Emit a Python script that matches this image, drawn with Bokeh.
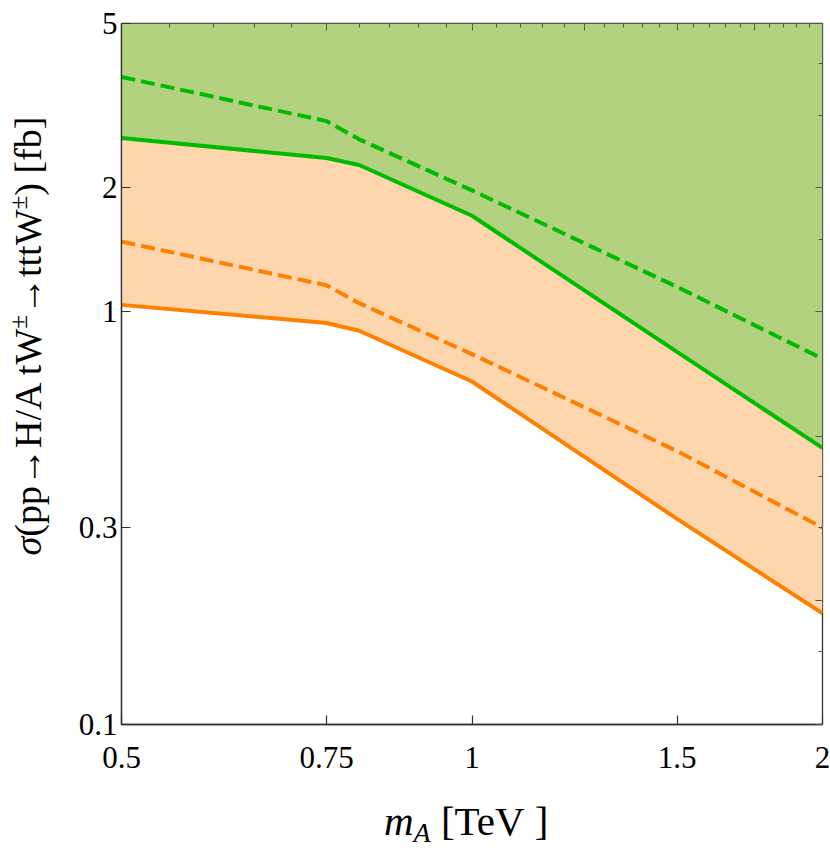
import numpy as np
from bokeh.plotting import figure
from bokeh.models import LogAxis, FixedTicker, Range1d, CustomJSTickFormatter, Div
from bokeh.layouts import column, row
from bokeh.embed import file_html
from bokeh.resources import INLINE

# ---- data ----
mass_tev = [0.5, 0.75, 0.8, 1.0, 1.5, 2.0]
green_solid = [2.64, 2.36, 2.27, 1.71, 0.80, 0.468]
green_dashed = [3.71, 2.90, 2.62, 1.97, 1.15, 0.77]
orange_solid = [1.04, 0.94, 0.90, 0.678, 0.315, 0.186]
orange_dashed = [1.48, 1.16, 1.05, 0.79, 0.46, 0.30]

x_ticks = [0.5, 0.75, 1.0, 1.5, 2.0]
y_ticks = [0.1, 0.3, 1.0, 2.0, 5.0]
x_lim = (0.5, 2.0)
y_lim = (0.1, 5.0)

top_major = [0.5, 0.75, 1.0, 1.25, 1.5, 1.75, 2.0]
top_minor = [0.55, 0.6, 0.65, 0.7, 0.8, 0.85, 0.9, 0.95, 1.05, 1.1, 1.15, 1.2,
             1.3, 1.35, 1.4, 1.45, 1.55, 1.6, 1.65, 1.7, 1.8, 1.85, 1.9, 1.95]
right_major = [0.1, 0.2, 0.5, 1.0, 2.0, 5.0]
right_minor = [0.15, 0.3, 0.4, 1.5, 3.0, 4.0]

FONT = "Liberation Serif"
AX = "#333333"
GREEN_FILL = "#b3d280"
ORANGE_FILL = "#fed6ae"
GREEN = "#00bb00"
ORANGE = "#ff8000"

p = figure(x_axis_type="log", y_axis_type="log",
           x_range=Range1d(*x_lim), y_range=Range1d(*y_lim),
           frame_width=701, frame_height=701,
           min_border_left=61, min_border_right=8,
           min_border_top=23, min_border_bottom=60,
           output_backend="svg", toolbar_location=None,
           background_fill_color="white", border_fill_color="white")
p.xgrid.visible = False
p.ygrid.visible = False
p.outline_line_color = AX
p.outline_line_width = 1.3

fmt = CustomJSTickFormatter(code="return String(tick);")
blank = CustomJSTickFormatter(code="return '';")

left = p.left[0]
left.ticker = FixedTicker(ticks=y_ticks, minor_ticks=[])
left.formatter = fmt
bottom = p.below[0]
bottom.ticker = FixedTicker(ticks=x_ticks, minor_ticks=[])
bottom.formatter = fmt
for ax in (left, bottom):
    ax.major_tick_in = 9
    ax.major_tick_out = 0
    ax.minor_tick_in = 0
    ax.minor_tick_out = 0
    ax.axis_line_color = AX
    ax.axis_line_width = 1.3
    ax.major_tick_line_color = AX
    ax.major_tick_line_width = 1.2
    ax.major_label_text_font = FONT
    ax.major_label_text_font_size = "31px"
    ax.major_label_text_color = "black"
left.major_label_standoff = 4
bottom.major_label_standoff = 22

top_axis = LogAxis(ticker=FixedTicker(ticks=top_major, minor_ticks=top_minor), formatter=blank)
right_axis = LogAxis(ticker=FixedTicker(ticks=right_major, minor_ticks=right_minor), formatter=blank)
for ax in (top_axis, right_axis):
    ax.major_tick_in = 7
    ax.major_tick_out = 0
    ax.minor_tick_in = 4
    ax.minor_tick_out = 0
    ax.axis_line_color = None
    ax.major_tick_line_color = "#555555"
    ax.minor_tick_line_color = "#555555"
    ax.major_label_text_font_size = "1px"
    ax.major_label_standoff = 0
p.add_layout(top_axis, "above")
p.add_layout(right_axis, "right")

# ---- regions ----
top_edge = [y_lim[1]] * len(mass_tev)
p.varea(x=mass_tev, y1=green_solid, y2=top_edge, fill_color=GREEN_FILL, fill_alpha=1.0)
p.varea(x=mass_tev, y1=orange_solid, y2=green_solid, fill_color=ORANGE_FILL, fill_alpha=1.0)

# ---- lines ----
p.line(mass_tev, green_dashed, line_color=GREEN, line_width=4, line_dash="14 6")
p.line(mass_tev, orange_dashed, line_color=ORANGE, line_width=4, line_dash="14 6")
p.line(mass_tev, green_solid, line_color=GREEN, line_width=4)
p.line(mass_tev, orange_solid, line_color=ORANGE, line_width=4)

# ---- y axis title (rotated HTML text, with superscripts) ----
sup = '<sup style="font-size:25px; line-height:0; vertical-align:14px;">±</sup>'
ylabel = Div(text=('<div style="position:relative; width:60px; height:784px;">'
                   '<div style="position:absolute; left:28px; top:336px; '
                   'transform:translate(-50%,-50%) rotate(-90deg); white-space:nowrap; '
                   'font-family:\'Liberation Serif\'; font-size:38px; line-height:1; color:black;">'
                   '<i>σ</i>(pp→H/A tW' + sup + '→tttW' + sup + ') [fb]</div></div>'),
             width=60, height=784, margin=(0, 0, 0, 0))

# ---- x axis title (HTML text for the italic m with subscript A) ----
xlabel = Div(text=('<div style="font-family:\'Liberation Serif\'; '
                   'font-size:41px; line-height:1; white-space:nowrap; color:black;">'
                   '<i>m</i><sub style="font-size:28px; line-height:0; vertical-align:-7px;">'
                   '<i>A</i></sub>&nbsp;[TeV&nbsp;]</div>'),
             width=300, height=45, margin=(17, 0, 0, 384))

layout = column(row(ylabel, p, spacing=0), xlabel, spacing=0)

open("out.html", "w").write(file_html(layout, INLINE))
